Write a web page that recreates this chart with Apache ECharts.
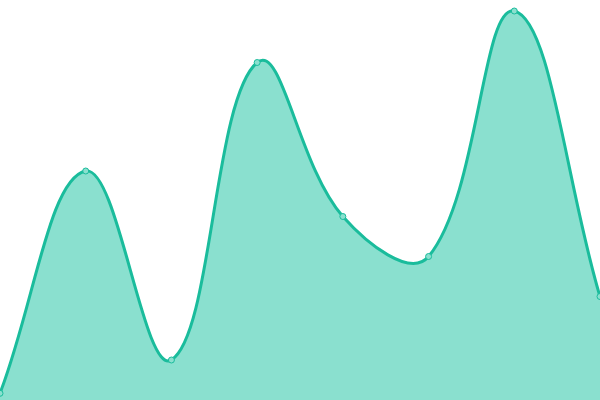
<!DOCTYPE html>
<html>
<head>
<meta charset="utf-8">
<script src="https://cdn.jsdelivr.net/npm/echarts@6/dist/echarts.min.js"></script>
<style>
  html, body { margin: 0; padding: 0; background: #ffffff; }
  #main { width: 600px; height: 400px; }
</style>
</head>
<body>
<div id="main"></div>
<script>
// values (hidden axis 0..400)
var categories = ['1', '2', '3', '4', '5', '6', '7', '8'];
var values = [6.7, 229, 40, 337.5, 183.5, 143.5, 389, 103.5];

var TENSION = 0.4;

// tension spline (control points not flattened at extremes, capped to the plot area)
var TensionSpline = echarts.graphic.extendShape({
  shape: { points: [], baseY: 0, closed: false, left: 0, right: 0, top: 0, bottom: 0 },
  buildPath: function (ctx, shape) {
    var pts = shape.points;
    var n = pts.length;
    if (!n) return;
    var cps = [];
    for (var i = 0; i < n; i++) {
      var prev = pts[Math.max(0, i - 1)];
      var cur = pts[i];
      var next = pts[Math.min(n - 1, i + 1)];
      var d01 = Math.hypot(cur[0] - prev[0], cur[1] - prev[1]);
      var d12 = Math.hypot(next[0] - cur[0], next[1] - cur[1]);
      var s01 = d01 / (d01 + d12), s12 = d12 / (d01 + d12);
      if (isNaN(s01)) s01 = 0;
      if (isNaN(s12)) s12 = 0;
      var fa = TENSION * s01, fb = TENSION * s12;
      var cap = function (x, y) {
        return [Math.min(Math.max(x, shape.left), shape.right),
                Math.min(Math.max(y, shape.top), shape.bottom)];
      };
      cps.push({
        p: cap(cur[0] - fa * (next[0] - prev[0]), cur[1] - fa * (next[1] - prev[1])),
        n: cap(cur[0] + fb * (next[0] - prev[0]), cur[1] + fb * (next[1] - prev[1]))
      });
    }
    ctx.moveTo(pts[0][0], pts[0][1]);
    for (var j = 1; j < n; j++) {
      ctx.bezierCurveTo(cps[j - 1].n[0], cps[j - 1].n[1], cps[j].p[0], cps[j].p[1], pts[j][0], pts[j][1]);
    }
    if (shape.closed) {
      ctx.lineTo(pts[n - 1][0], shape.baseY);
      ctx.lineTo(pts[0][0], shape.baseY);
      ctx.closePath();
    }
  }
});
echarts.graphic.registerShape('tensionSpline', TensionSpline);

var chart = echarts.init(document.getElementById('main'));

var option = {
  backgroundColor: '#ffffff',
  animation: false,
  grid: { left: 0, right: 0, top: 0, bottom: 0 },
  xAxis: {
    type: 'category',
    data: categories,
    boundaryGap: false,
    show: false
  },
  yAxis: {
    type: 'value',
    min: 0,
    max: 400,
    show: false
  },
  series: [{
    type: 'custom',
    silent: true,
    data: values.map(function (v, i) { return [i, v]; }),
    encode: { x: 0, y: 1 },
    z: 1,
    renderItem: function (params, api) {
      if (params.dataIndex !== 0) return null;
      var pts = values.map(function (v, i) { return api.coord([i, v]); });
      var cs = params.coordSys;
      var base = api.coord([0, 0])[1];
      var common = {
        points: pts, baseY: base,
        left: cs.x, right: cs.x + cs.width, top: cs.y, bottom: cs.y + cs.height
      };
      return {
        type: 'group',
        children: [{
          type: 'tensionSpline',
          shape: Object.assign({ closed: true }, common),
          style: { fill: '#8ae0cf', stroke: 'none' }
        }, {
          type: 'tensionSpline',
          shape: Object.assign({ closed: false }, common),
          style: { fill: 'none', stroke: '#1abc9c', lineWidth: 3 }
        }]
      };
    }
  }, {
    type: 'line',
    data: values,
    z: 3,
    symbol: 'circle',
    symbolSize: 6,
    lineStyle: { opacity: 0, width: 0 },
    itemStyle: { color: '#8ae0cf', borderColor: '#1abc9c', borderWidth: 1 }
  }]
};

chart.setOption(option);
</script>
</body>
</html>
